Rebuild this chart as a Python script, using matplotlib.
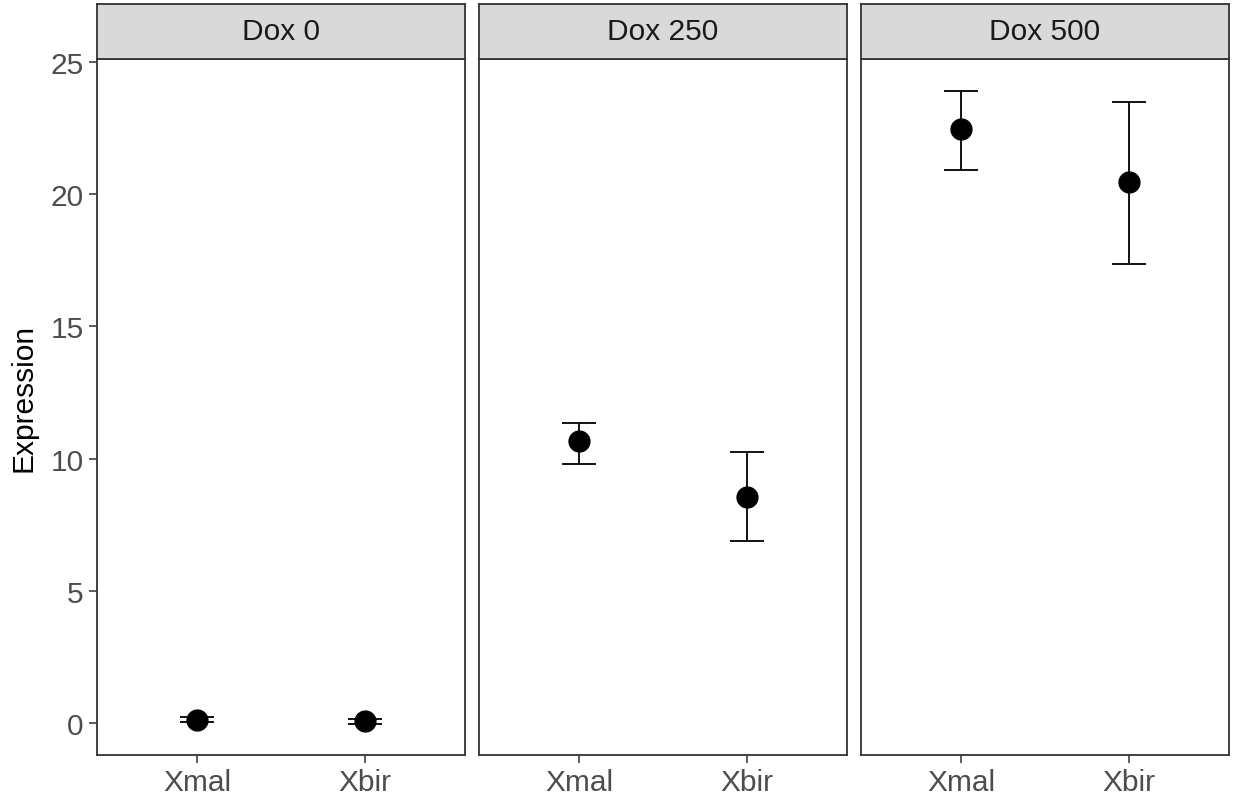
import matplotlib.pyplot as plt
import numpy as np

plt.rcParams['font.family'] = ['Liberation Sans', 'DejaVu Sans']

doses = ['Dox 0', 'Dox 250', 'Dox 500']
genes = ['Xmal', 'Xbir']
means = [[0.12, 0.07], [10.65, 8.55], [22.45, 20.45]]
lower = [[0.02, -0.03], [9.78, 6.87], [20.93, 17.35]]
upper = [[0.22, 0.17], [11.35, 10.24], [23.91, 23.47]]

W, H = 1233, 803
fig = plt.figure(figsize=(W / 100, H / 100), dpi=100)

panel_left = [97, 479, 861]
panel_w = 368
top, bottom, strip_top = 59.7, 756, 5.3
ylo, yhi = -1.21, 25.12
x = np.arange(1, len(genes) + 1)

for i, dose in enumerate(doses):
    l = panel_left[i]
    ax = fig.add_axes([l / W, 1 - bottom / H, panel_w / W, (bottom - top) / H])
    m = np.array(means[i])
    lo = m - np.array(lower[i])
    hi = np.array(upper[i]) - m
    ax.errorbar(x, m, yerr=[lo, hi], fmt='none', ecolor='black',
                elinewidth=1.3, capsize=12, capthick=1.3, zorder=2)
    ax.plot(x, m, 'o', color='black', markersize=15, zorder=3)
    ax.set_xlim(0.4, 2.6)
    ax.set_ylim(ylo, yhi)
    ax.set_xticks(x)
    ax.set_xticklabels(genes)
    ax.set_yticks([0, 5, 10, 15, 20, 25])
    ax.tick_params(colors='#333333', labelcolor='#4D4D4D', labelsize=21.5,
                   length=5.5, width=1.1, pad=4)
    if i == 0:
        ax.set_ylabel('Expression', fontsize=21.5, color='black')
        ax.yaxis.set_label_coords(-0.163, 0.514)
    else:
        ax.tick_params(axis='y', left=False, labelleft=False)
    for s in ax.spines.values():
        s.set_color('#333333')
        s.set_linewidth(1.3)

    # facet strip
    sax = fig.add_axes([l / W, 1 - top / H, panel_w / W, (top - strip_top) / H])
    sax.set_facecolor('#D9D9D9')
    sax.set_xticks([])
    sax.set_yticks([])
    for s in sax.spines.values():
        s.set_color('#333333')
        s.set_linewidth(1.3)
    sax.text(0.5, 0.5, dose, ha='center', va='center', fontsize=21.5,
             color='#1A1A1A', transform=sax.transAxes)

fig.savefig('out.png', dpi=100)
